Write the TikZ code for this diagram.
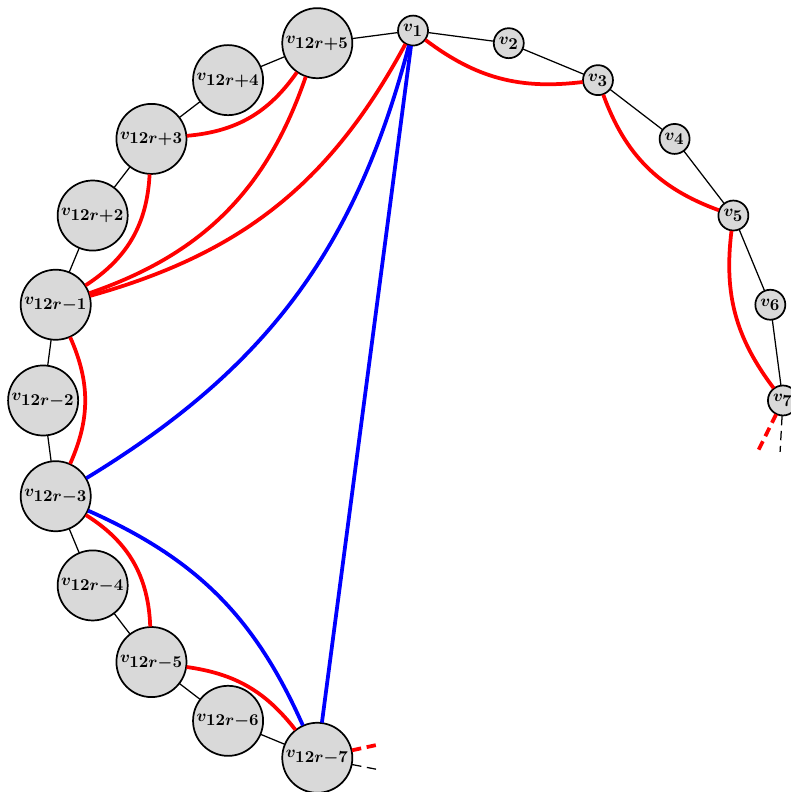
\documentclass[tikz,border=0pt]{standalone}
\usepackage{amsmath,amssymb}
\usepackage{tikz}
\DeclareMathSizes{10}{10}{10}{10}

\begin{document}
\begin{tikzpicture}
        \tikzset{vbig/.style={circle,draw,line width=.55pt,fill=black!15,scale=.53,minimum size=42.3pt,inner sep=0pt,font=\boldmath},
          vsmall/.style={circle,draw,line width=.55pt,fill=black!15,scale=.53,minimum size=18.1pt,inner sep=0pt,font=\boldmath},
          redge/.style={very thick,red},
          bedge/.style={very thick,blue},
          stub/.style={dash pattern=on 3pt off 1.8pt}}
        \useasboundingbox (-4.645,-4.403) rectangle (4.240,4.504);
        % right side
        \node[vsmall] (v1) at (90:4.16) {$v_1$};
        \node[vsmall] (v2) at (75:4.16) {$v_2$};
        \node[vsmall] (v3) at (60:4.16) {$v_3$};
        \node[vsmall] (v4) at (45:4.16) {$v_4$};
        \node[vsmall] (v5) at (30:4.16) {$v_5$};
        \node[vsmall] (v6) at (15:4.16) {$v_6$};
        \node[vsmall] (v7) at (0:4.16) {$v_7$};
        % left side
        \node[vbig] (p5) at (105:4.16) {$v_{12r+5}$};
        \node[vbig] (p4) at (120:4.16) {$v_{12r+4}$};
        \node[vbig] (p3) at (135:4.16) {$v_{12r+3}$};
        \node[vbig] (p2) at (150:4.16) {$v_{12r+2}$};
        \node[vbig] (m1) at (165:4.16) {$v_{12r-1}$};
        \node[vbig] (m2) at (180:4.16) {$v_{12r-2}$};
        \node[vbig] (m3) at (195:4.16) {$v_{12r-3}$};
        \node[vbig] (m4) at (210:4.16) {$v_{12r-4}$};
        \node[vbig] (m5) at (225:4.16) {$v_{12r-5}$};
        \node[vbig] (m6) at (240:4.16) {$v_{12r-6}$};
        \node[vbig] (m7) at (255:4.16) {$v_{12r-7}$};
        \coordinate (v7r) at (3.880,-0.568);
        \coordinate (v7b) at (4.128,-0.579);
        \coordinate (m7r) at (-0.408,-3.874);
        \coordinate (m7b) at (-0.408,-4.148);
        % cycle
        \draw (m7) -- (m6) -- (m5) -- (m4) -- (m3) -- (m2) -- (m1) -- (p2) -- (p3) -- (p4) -- (p5) -- (v1) -- (v2) -- (v3) -- (v4) -- (v5) -- (v6) -- (v7);
        \draw[stub] (v7) -- (v7b);
        \draw[stub] (m7) -- (m7b);
        % red chords
        \draw[redge] (v1) to[bend right=22] (v3);
        \draw[redge] (v3) to[bend right=25] (v5);
        \draw[redge] (v5) to[bend right=22] (v7);
        \draw[redge,stub] (v7) -- (v7r);
        \draw[redge,stub] (m7) -- (m7r);
        \draw[redge] (m7) to[bend right=22] (m5);
        \draw[redge] (m5) to[bend right=28] (m3);
        \draw[redge] (m3) to[bend right=24] (m1);
        \draw[redge] (m1) to[bend right=27] (p3);
        \draw[redge] (p3) to[bend right=25] (p5);
        \draw[redge] (m1) to[bend right=26] (p5);
        \draw[redge] (m1) to[bend right=23] (v1);
        % blue chords
        \draw[bedge] (m3) to[bend right=22] (v1);
        \draw[bedge] (m7) to[bend right=21] (m3);
        \draw[bedge] (m7) -- (v1);
      \end{tikzpicture}
\end{document}
